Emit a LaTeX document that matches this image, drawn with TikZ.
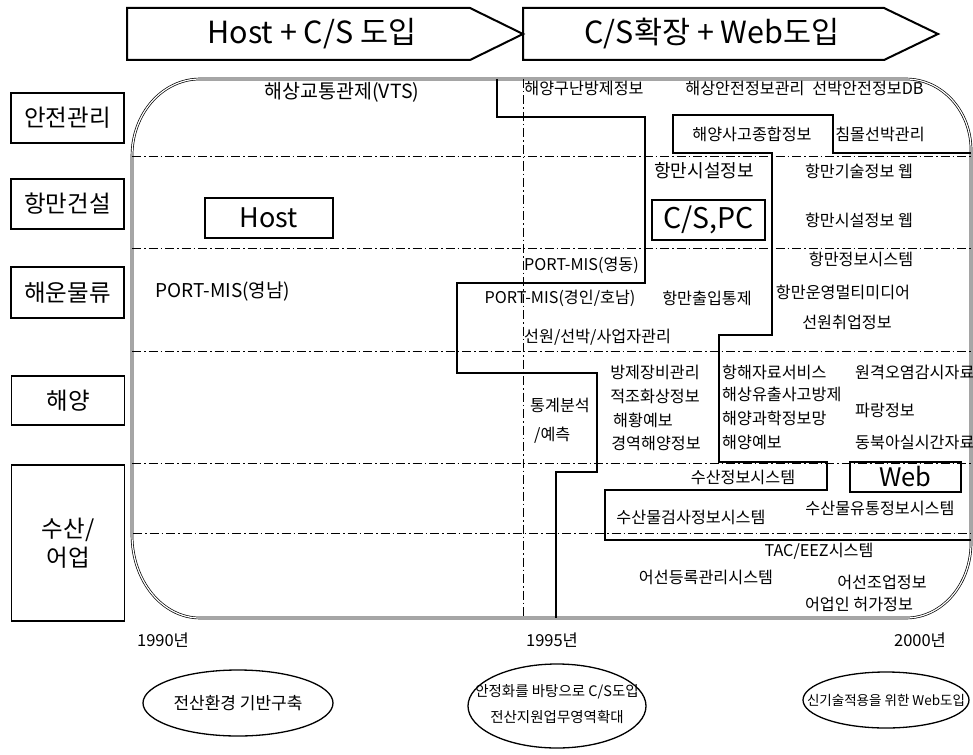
\documentclass[tikz,border=0pt]{standalone}
\usepackage{fontspec}
\setmainfont{Noto Sans CJK KR}
\usetikzlibrary{shapes.geometric}
\tikzset{
  arrowbox/.style={line width=2pt, line join=miter},
  toptxt/.style={font=\fontsize{30.5}{33}\selectfont, inner sep=0},
  mainbox/.style={double, double distance=1.2pt, line width=0.7pt},
  ddline/.style={line width=0.8pt, dash pattern=on 9pt off 3pt on 1.5pt off 3pt},
  thickb/.style={line width=2.2pt, line join=miter},
  lbl/.style={draw, line width=1.1pt, minimum width=113pt, inner sep=0, align=center, font=\fontsize{23.5}{29}\selectfont},
  txt/.style={font=\fontsize{16.2}{19}\selectfont, inner sep=0},
  bigtxt/.style={draw, line width=1.1pt, inner sep=0, font=\fontsize{27}{30}\selectfont},
  yeartxt/.style={font=\fontsize{16.5}{19}\selectfont, inner sep=0},
  ovaltxt/.style={font=\fontsize{14.5}{26}\selectfont, inner sep=0, align=center},
  oval/.style={line width=1.3pt}
}
\begin{document}
\begin{tikzpicture}[x=1pt,y=-1pt]
\useasboundingbox (0,0) rectangle (973,754);

% top arrows
\draw[arrowbox] (127,8) -- (470,8) -- (523,34) -- (470,60) -- (127,60) -- cycle;
\draw[arrowbox] (523,8) -- (884,8) -- (938,34) -- (884,60) -- (523,60) -- cycle;
\node[toptxt] (a1) at (312,34) {Host + C/S 도입};
\node[toptxt] (a2) at (712,34) {C/S확장 + Web도입};

% left labels
\node[lbl, minimum height=50pt] (l1) at (67.5,118) {안전관리};
\node[lbl, minimum height=50pt] (l2) at (67.5,204) {항만건설};
\node[lbl, minimum height=51pt] (l3) at (67.5,292.5) {해운물류};
\node[lbl, minimum height=49pt] (l4) at (68,400.5) {해양};
\node[lbl, minimum height=156pt] (l5) at (68,543) {수산/\\어업};

% main rounded box
\draw[mainbox] (200,79) -- (906,79)
  arc[start angle=90, end angle=0, x radius=65pt, y radius=71pt] -- (971,543)
  arc[start angle=0, end angle=-90, x radius=65pt, y radius=75pt] -- (200,618)
  arc[start angle=-90, end angle=-180, x radius=68pt, y radius=83pt] -- (132,156)
  arc[start angle=180, end angle=90, x radius=68pt, y radius=77pt] -- cycle;

% row separators and 1995 line
\draw[ddline] (132,156) -- (971,156);
\draw[ddline] (132,248) -- (971,248);
\draw[ddline] (132,351) -- (971,351);
\draw[ddline] (132,463) -- (971,463);
\draw[ddline] (133,533) -- (971,533);
\draw[ddline] (523,79) -- (523,618);

% Host / C-S boundary
\draw[thickb] (497,79) -- (497,117) -- (645,117) -- (645,283) -- (457,283) -- (457,373)
  -- (597,373) -- (597,472) -- (556,472) -- (556,618);
% C-S / Web boundary
\draw[thickb] (971,153) -- (833,153) -- (833,115) -- (673,115) -- (673,153) -- (772,153)
  -- (772,335) -- (719,335) -- (719,462) -- (827,462) -- (827,490) -- (605,490)
  -- (605,540) -- (971,540);

% boxed keywords
\node[bigtxt, minimum width=128pt, minimum height=40pt] (host) at (269,218) {Host};
\node[bigtxt, minimum width=113pt, minimum height=40pt, font=\fontsize{28.5}{31}\selectfont] (cspc) at (708.5,220) {C/S,PC};
\node[bigtxt, minimum width=111pt, minimum height=30pt, font=\fontsize{25.5}{28}\selectfont] (web) at (905.5,477) {Web};

% safety row
\node[txt, font=\fontsize{19.5}{22}\selectfont] (t1) at (342,92) {해상교통관제(VTS)};
\node[txt] (t2) at (584,88) {해양구난방제정보};
\node[txt] (t3) at (745,88) {해상안전정보관리};
\node[txt] (t4) at (868,88) {선박안전정보DB};
\node[txt] (t5) at (752,134) {해양사고종합정보};
\node[txt] (t6) at (880,134) {침몰선박관리};

% harbour construction row
\node[txt, font=\fontsize{18}{21}\selectfont] (t7) at (704,171) {항만시설정보};
\node[txt] (t8) at (859,171) {항만기술정보 웹};
\node[txt] (t9) at (859,220) {항만시설정보 웹};

% shipping row
\node[txt, anchor=west] (t10) at (524,265) {PORT-MIS(영동)};
\node[txt] (t11) at (861,259) {항만정보시스템};
\node[txt, font=\fontsize{19}{22}\selectfont] (t12) at (223,292) {PORT-MIS(영남)};
\node[txt] (t13) at (560,298) {PORT-MIS(경인/호남)};
\node[txt] (t14) at (707,298) {항만출입통제};
\node[txt] (t15) at (843,292) {항만운영멀티미디어};
\node[txt] (t16) at (847,322) {선원취업정보};
\node[txt, anchor=west] (t17) at (524,337) {선원/선박/사업자관리};

% ocean row
\node[txt] (t18) at (655,372) {방제장비관리};
\node[txt] (t19) at (655,396) {적조화상정보};
\node[txt, anchor=west] (t20) at (613,420) {해황예보};
\node[txt] (t21) at (656,443) {경역해양정보};
\node[txt] (t22) at (560,405) {통계분석};
\node[txt, anchor=west] (t23) at (534,435) {/예측};
\node[txt, anchor=west] (t24) at (722,372) {항해자료서비스};
\node[txt, anchor=west] (t25) at (855,372) {원격오염감시자료};
\node[txt, anchor=west] (t26) at (722,394) {해상유출사고방제};
\node[txt, anchor=west] (t27) at (722,418) {해양과학정보망};
\node[txt, anchor=west] (t28) at (722,442) {해양예보};
\node[txt, anchor=west] (t29) at (855,410) {파랑정보};
\node[txt, anchor=west] (t30) at (855,442) {동북아실시간자료};

% fisheries row
\node[txt] (t31) at (743,477) {수산정보시스템};
\node[txt] (t32) at (691,517) {수산물검사정보시스템};
\node[txt] (t33) at (880,508) {수산물유통정보시스템};
\node[txt] (t34) at (819,551) {TAC/EEZ시스템};
\node[txt] (t35) at (706,577) {어선등록관리시스템};
\node[txt] (t36) at (882,582) {어선조업정보};
\node[txt] (t37) at (859,604) {어업인 허가정보};

% years
\node[yeartxt] (y1) at (163,640) {1990년};
\node[yeartxt] (y2) at (552,640) {1995년};
\node[yeartxt] (y3) at (920,640) {2000년};

% bottom ovals
\draw[oval] (238,703) ellipse [x radius=95pt, y radius=33pt];
\node[ovaltxt, font=\fontsize{17}{20}\selectfont] (o1) at (238,703) {전산환경 기반구축};
\draw[oval] (557,706) ellipse [x radius=89pt, y radius=42pt];
\node[ovaltxt] (o2) at (557,704) {안정화를 바탕으로 C/S도입\\전산지원업무영역확대};
\draw[oval] (886,700) ellipse [x radius=83pt, y radius=28pt];
\node[ovaltxt, font=\fontsize{13.5}{16}\selectfont] (o3) at (886,700) {신기술적용을 위한 Web도입};
\end{tikzpicture}
\end{document}
